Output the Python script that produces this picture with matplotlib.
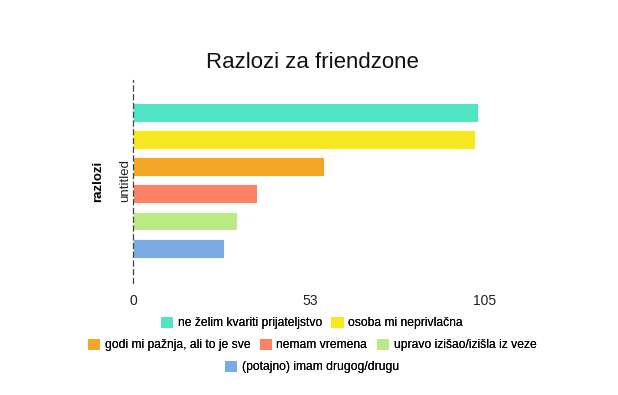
import matplotlib
matplotlib.use('Agg')
from matplotlib import pyplot as plt
from matplotlib.patches import Patch

plt.rcParams['font.family'] = ['Liberation Sans', 'DejaVu Sans']

labels = ['ne želim kvariti prijateljstvo', 'osoba mi neprivlačna',
          'godi mi pažnja, ali to je sve', 'nemam vremena',
          'upravo izišao/izišla iz veze', '(potajno) imam drugog/drugu']
values = [103, 102, 57, 37, 31, 27]
colors = ['#52e3c2', '#f7e71e', '#f4a627', '#fb8265', '#bbe984', '#7aabe3']
xticks = [0, 53, 105]

W, H = 618, 395
fig = plt.figure(figsize=(W / 100, H / 100), dpi=100)
ax = fig.add_axes([133 / W, 1 - 283 / H, (485 - 133) / W, (283 - 80) / H])

ypos = list(range(len(values)))
ax.barh(ypos, values, height=0.7, color=colors, edgecolor='white', linewidth=0.6)
ax.set_xlim(0, 105)
ax.set_ylim(len(values) - 1 + 1.29, -1.21)

for s in ['top', 'right', 'bottom']:
    ax.spines[s].set_visible(False)
ax.spines['left'].set_linestyle((0, (4, 3)))
ax.spines['left'].set_color('#444444')
ax.spines['left'].set_linewidth(0.9)

ax.set_xticks(xticks)
ax.set_xticklabels([str(t) for t in xticks])
ax.tick_params(axis='x', length=0, labelsize=10, pad=8, colors='#222222')
ax.set_yticks([(len(values) - 1) / 2])
ax.set_yticklabels(['untitled'], rotation=90, va='center')
ax.tick_params(axis='y', length=0, labelsize=9.5, pad=1.5, colors='#222222')
ax.set_ylabel('razlozi', fontweight='bold', fontsize=9.5, labelpad=11)

fig.text(312 / W, 1 - 62 / H, 'Razlozi za friendzone', ha='center', va='center',
         fontsize=16, color='#111111')

handles = [Patch(facecolor=c, edgecolor='none') for c in colors]
rows = [[0, 1], [2, 3, 4], [5]]
row_y = [323, 345, 367]
for r, yy in zip(rows, row_y):
    leg = fig.legend([handles[i] for i in r], [labels[i] for i in r],
                     loc='center', bbox_to_anchor=(312 / W, 1 - yy / H),
                     ncol=len(r), frameon=False, fontsize=8.7,
                     handlelength=1.0, handleheight=1.0, handletextpad=0.4,
                     columnspacing=0.77, borderpad=0)
    fig.add_artist(leg)

fig.savefig('out.png', dpi=100, facecolor='white')
